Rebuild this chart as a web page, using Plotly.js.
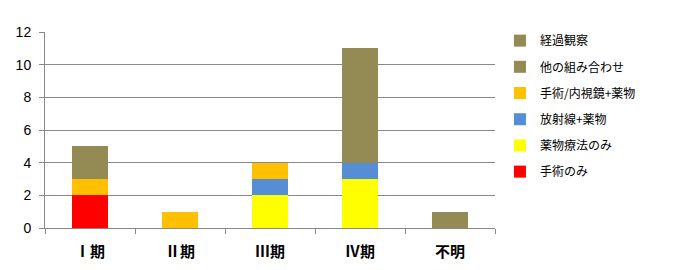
<!DOCTYPE html>
<html><head><meta charset="utf-8">
<script src="https://cdn.plot.ly/plotly-3.0.1.min.js"></script>
<style>body{margin:0;background:#fff}#c{width:693px;height:270px}</style>
</head><body><div id="c"></div>
<script>
const categories = ['Ⅰ期', 'Ⅱ期', 'Ⅲ期', 'Ⅳ期', '不明'];
const seriesNames = ['手術のみ', '薬物療法のみ', '放射線+薬物', '手術/内視鏡+薬物', '他の組み合わせ', '経過観察'];
const surgeryOnly = [2, 0, 0, 0, 0];
const drugOnly = [0, 0, 2, 3, 0];
const radiationDrug = [0, 0, 1, 1, 0];
const surgeryEndoDrug = [1, 1, 1, 0, 0];
const otherCombo = [2, 0, 0, 1, 0];
const observation = [0, 0, 0, 6, 1];
const yTicks = [0, 2, 4, 6, 8, 10, 12];

const seriesValues = [surgeryOnly, drugOnly, radiationDrug, surgeryEndoDrug, otherCombo, observation];
const colors = ['#FF0000', '#FFFF00', '#558ED5', '#FFC000', '#948A54', '#948A54'];

const traces = seriesValues.map((v, i) => ({
  type: 'bar', x: categories, y: v, name: seriesNames[i],
  marker: {color: colors[i], line: {width: 0}},
  legendgroup: 'g' + i, legendrank: 10 * (seriesValues.length - i),
  hoverinfo: 'x+y+name'
}));

const layout = {
  width: 693, height: 270,
  margin: {l: 45, r: 198, t: 32, b: 42},
  barmode: 'stack', bargap: 0.59,
  paper_bgcolor: '#fff', plot_bgcolor: '#fff',
  xaxis: {
    showline: true, linecolor: '#888', linewidth: 1,
    ticks: 'outside', tickson: 'boundaries', ticklen: 5, tickcolor: '#888',
    ticklabelstandoff: 10,
    tickfont: {family: 'Noto Sans CJK JP', size: 15, color: '#000', weight: 'bold'},
    showgrid: false
  },
  yaxis: {
    range: [0, 12], tickvals: yTicks,
    showline: true, linecolor: '#888', linewidth: 1,
    ticks: 'outside', ticklen: 5, tickcolor: '#888',
    ticklabelstandoff: 5,
    showgrid: true, gridcolor: '#888', gridwidth: 1,
    zeroline: false,
    tickfont: {family: 'Liberation Sans', size: 14, color: '#000'}
  },
  legend: {
    x: 1.011, xanchor: 'left', y: 1.03, yanchor: 'top',
    traceorder: 'grouped', tracegroupgap: 7.2, maxheight: 260,
    font: {family: 'Noto Sans CJK JP', size: 12, color: '#000'},
    itemwidth: 30
  },
  showlegend: true
};
Plotly.newPlot('c', traces, layout, {displayModeBar: false, staticPlot: true});
</script></body></html>
